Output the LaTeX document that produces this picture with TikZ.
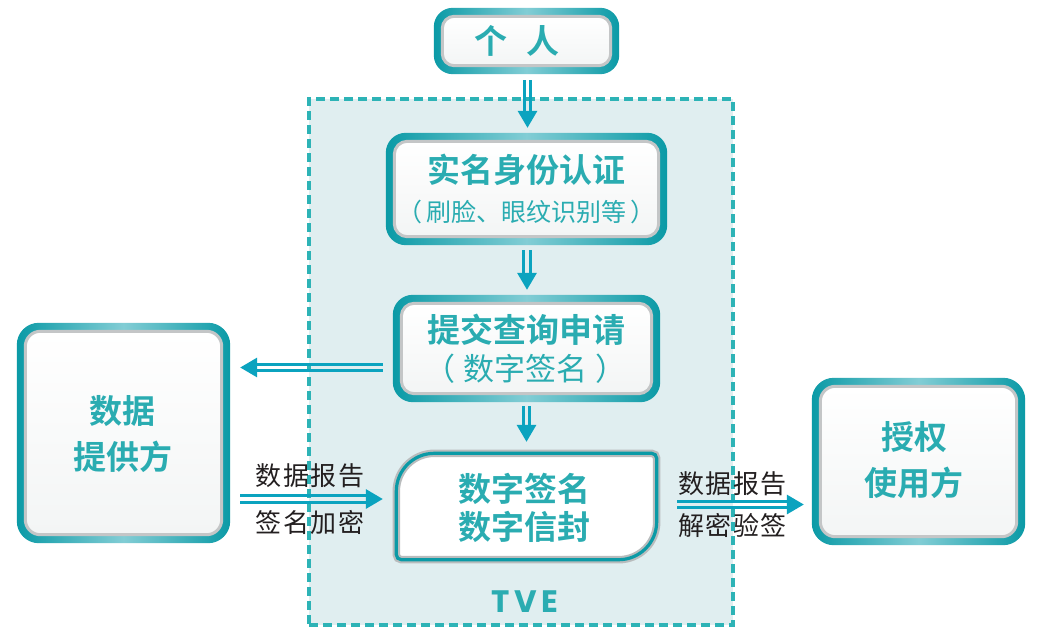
\documentclass[tikz,border=0pt]{standalone}
\usepackage{fontspec}
\newfontfamily\cjk{Noto Sans CJK SC}[BoldFont={Noto Sans CJK SC Bold}]
\newfontfamily\cjkls{Noto Sans CJK SC}[LetterSpace=6]
\newfontfamily\tvefont{Poppins}[LetterSpace=14]
\usetikzlibrary{arrows.meta,calc}
\pgfdeclarelayer{back}\pgfdeclarelayer{bg}
\pgfsetlayers{back,bg,main}
\definecolor{bd}{HTML}{0B9AA6}
\definecolor{bl}{HTML}{82CDD5}
\definecolor{tt}{HTML}{2AACB1}
\definecolor{arc}{HTML}{0BA3BF}
\definecolor{tvefill}{HTML}{E0EEF0}
\definecolor{tvedash}{HTML}{2DB3B6}
\definecolor{ingray}{HTML}{C4C6C7}
\definecolor{inbot}{HTML}{F3F5F5}
\definecolor{silver}{HTML}{B9BCBD}
\definecolor{labc}{HTML}{231F20}
\tikzset{
  boxnode/.style={rectangle, inner sep=0pt, draw=none},
  title/.style={inner sep=0pt, text=tt, font=\cjk\bfseries\fontsize{33}{36}\selectfont},
  subtitle/.style={inner sep=0pt, text=tt, font=\cjk\fontsize{25}{28}\selectfont},
  sublarge/.style={inner sep=0pt, text=tt, font=\cjk\fontsize{31}{34}\selectfont},
  lab/.style={inner sep=0pt, text=labc, font=\cjkls\fontsize{26}{28}\selectfont},
  dl/.style={draw=arc, line width=2.7pt},
  tipline/.style={draw=arc, draw opacity=0, line width=0.1pt, -{Triangle[length=17pt,width=20pt,fill=arc]}},
}
% double arrow: #1 start, #2 end, #3 shorten start, #4 shorten end (tip), #5 shorten end for lines, #6 x or y
\newcommand\darrow[6]{%
  \draw[dl, shorten <=#3, shorten >=#5, transform canvas={#6shift=3.3pt}] (#1) -- (#2);
  \draw[dl, shorten <=#3, shorten >=#5, transform canvas={#6shift=-3.3pt}] (#1) -- (#2);
  \draw[tipline, shorten <=#3, shorten >=#4] (#1) -- (#2);
}
\newcommand\boxdeco[3]{%
  \shade[rounded corners=#2, left color=bd, right color=bd, middle color=bl]
    (#1.north west) rectangle (#1.south east);
  \shade[rounded corners=#3, top color=white, bottom color=inbot, draw=ingray, line width=3pt]
    ([shift={(8.5,8.5)}]#1.north west) rectangle ([shift={(-8.5,-8.5)}]#1.south east);
}
\newcommand\sigpath{%
  ([shift={(3.5,0)}]sig.west) [rounded corners=38pt] -- ([shift={(3.5,3.5)}]sig.north west)
  -- ([shift={(0,3.5)}]sig.north) [rounded corners=5pt] -- ([shift={(-3.5,3.5)}]sig.north east)
  -- ([shift={(-3.5,0)}]sig.east) [rounded corners=38pt] -- ([shift={(-3.5,-3.5)}]sig.south east)
  -- ([shift={(0,-3.5)}]sig.south) [rounded corners=5pt] -- ([shift={(3.5,-3.5)}]sig.south west)
  -- cycle}
\begin{document}
\begin{tikzpicture}[x=1pt,y=-1pt]
\useasboundingbox (0,0) rectangle (1040,634);

% TVE region
\begin{pgfonlayer}{back}
\fill[white] (0,0) rectangle (1040,634);
\node[boxnode, fill=tvefill, draw=tvedash, line width=3.5pt, dash pattern=on 9pt off 5pt,
      minimum width=424pt, minimum height=526pt] (tve) at (521,362) {};
\end{pgfonlayer}

% box nodes
\node[boxnode, minimum width=185pt, minimum height=66pt] (person) at (526.5,41) {};
\node[boxnode, minimum width=281pt, minimum height=112pt] (auth) at (526.5,189) {};
\node[boxnode, minimum width=267pt, minimum height=107pt] (query) at (526.5,348.5) {};
\node[boxnode, minimum width=267pt, minimum height=113pt] (sig) at (526.5,506.5) {};
\node[boxnode, minimum width=213pt, minimum height=220pt] (prov) at (123.5,433) {};
\node[boxnode, minimum width=213pt, minimum height=167pt] (user) at (918.5,461.5) {};

\begin{pgfonlayer}{bg}
\boxdeco{person}{19pt}{12pt}
\boxdeco{auth}{20pt}{13pt}
\boxdeco{query}{20pt}{13pt}
\boxdeco{prov}{22pt}{15pt}
\boxdeco{user}{22pt}{15pt}
\filldraw[fill=white, draw=silver, line width=7.5pt] \sigpath;
\draw[draw=bd, line width=3.2pt] \sigpath;
\end{pgfonlayer}

% texts
\node[title] (personT) at (517,41) {个\hspace{0.6em}人};
\node[title] (authT1) at (526,170) {实名身份认证};
\node[subtitle] (authT2) at (526.5,212) {（\hspace{4pt}刷脸、眼纹识别等\hspace{4pt}）};
\node[title] (queryT1) at (526,330) {提交查询申请};
\node[sublarge] (queryT2) at (525,369) {（\hspace{8pt}数字签名\hspace{8pt}）};
\node[title] (sigT1) at (524,488.5) {数字签名};
\node[title] (sigT2) at (524.5,526.5) {数字信封};
\node[title] (provT1) at (122.5,411) {数据};
\node[title] (provT2) at (123,456.5) {提供方};
\node[title] (userT1) at (914.5,437.5) {授权};
\node[title] (userT2) at (913.5,482.5) {使用方};
\node[inner sep=0pt, text=tt, font=\tvefont\bfseries\fontsize{31}{34}\selectfont] (tveT) at (525,602) {TVE};

% labels
\node[lab] (l1) at (310,476) {数据报告};
\node[lab] (l2) at (310,522.5) {签名加密};
\node[lab] (l3) at (732.5,484) {数据报告};
\node[lab] (l4) at (732.5,526) {解密验签};

% arrows
\coordinate (p1) at ([shift={(1,0)}]person.south);
\darrow{p1}{p1 |- auth.north}{6pt}{5pt}{14pt}{x}
\coordinate (p2) at ([shift={(0.5,0)}]auth.south);
\darrow{p2}{p2 |- query.north}{5pt}{5pt}{14pt}{x}
\coordinate (p3) at ([shift={(0,0)}]query.south);
\darrow{p3}{p3 |- sig.north}{4pt}{8pt}{17pt}{x}
\coordinate (c4) at ([shift={(-10,19)}]query.west);
\darrow{c4}{prov.east |- c4}{0pt}{10pt}{19pt}{y}
\coordinate (c5) at ([shift={(0,-7.5)}]sig.west);
\darrow{prov.east |- c5}{c5}{10pt}{10pt}{19pt}{y}
\coordinate (c6) at ([shift={(0,-2)}]sig.east);
\darrow{c6}{user.west |- c6}{17pt}{8pt}{17pt}{y}
\end{tikzpicture}
\end{document}
